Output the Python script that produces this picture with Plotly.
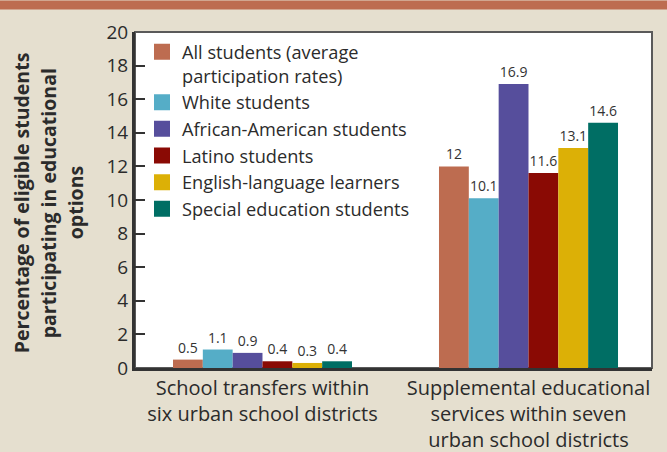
import plotly.graph_objects as go

categories = ["School transfers within<br>six urban school districts",
              "Supplemental educational<br>services within seven<br>urban school districts"]
series_names = ["All students (average<br>participation rates)", "White students",
                "African-American students", "Latino students",
                "English-language learners", "Special education students"]
series_values = [
    [0.5, 12],
    [1.1, 10.1],
    [0.9, 16.9],
    [0.4, 11.6],
    [0.3, 13.1],
    [0.4, 14.6],
]
colors = ["#bd6c50", "#55adc7", "#564e9c", "#8a0a04", "#dcb006", "#006e64"]
y_ticks = [0, 2, 4, 6, 8, 10, 12, 14, 16, 18, 20]
y_title_lines = ["Percentage of eligible students", "participating in educational", "options"]

FONT = "Open Sans"
TXT = "#2b2b2b"
W, H = 667, 452
L, R, T, B = 135, 15, 31.5, 84
pw, ph = W - L - R, H - T - B

def px_x(p):
    return (p - L) / pw

def px_y(p):
    return (H - B - p) / ph

fig = go.Figure()
xpos = list(range(len(categories)))
for i, (name, vals, c) in enumerate(zip(series_names, series_values, colors)):
    fig.add_trace(go.Bar(
        x=xpos, y=vals, name=name, marker=dict(color=c, line=dict(width=0)),
        text=[f"{v:g}" for v in vals], textposition="outside",
        textfont=dict(family=FONT, size=14, color="#333333"),
        cliponaxis=False, showlegend=False, legendgroup=f"g{i}",
    ))
# legend proxies with larger swatches
for i, (name, c) in enumerate(zip(series_names, colors)):
    fig.add_trace(go.Scatter(
        x=[None], y=[None], mode="markers", name=name, legendgroup=f"g{i}",
        marker=dict(symbol="square", size=16, color=c, line=dict(width=0)),
        showlegend=True,
    ))

fig.update_layout(
    width=W, height=H,
    margin=dict(l=L, r=R, t=T, b=B, pad=0, autoexpand=False),
    paper_bgcolor="#e5dfcf", plot_bgcolor="white",
    barmode="group", bargap=0.327, bargroupgap=0,
    font=dict(family=FONT, color=TXT),
    showlegend=True,
    legend=dict(x=px_x(142), y=px_y(33), xanchor="left", yanchor="top",
                bgcolor="rgba(0,0,0,0)", font=dict(family=FONT, size=18.2, color=TXT),
                tracegroupgap=0, valign="top", itemsizing="trace"),
    xaxis=dict(range=[-0.4793, 1.4643], tickvals=xpos, ticktext=categories,
               showgrid=False, zeroline=False, ticks="", automargin=False,
               showline=True, linewidth=3, linecolor="#333333",
               tickfont=dict(family=FONT, size=20, color=TXT)),
    yaxis=dict(range=[0, 20], tickvals=y_ticks, showgrid=False, zeroline=False,
               ticks="inside", ticklen=10, tickwidth=2, tickcolor="#333333",
               showline=True, linewidth=3, linecolor="#333333", automargin=False,
               tickfont=dict(family=FONT, size=19, color=TXT)),
    shapes=[
        dict(type="rect", xref="paper", yref="paper", x0=0, x1=1, y0=0, y1=1,
             line=dict(color="#5a5a5a", width=2), fillcolor="rgba(0,0,0,0)", layer="below"),
        dict(type="rect", xref="paper", yref="paper", x0=px_x(0), x1=px_x(W),
             y0=px_y(9), y1=px_y(0), line=dict(width=0), fillcolor="#bd6c50", layer="above"),
    ],
)

for k, (line, xp) in enumerate(zip(y_title_lines, [21, 48, 75])):
    fig.add_annotation(text=f"<b>{line}</b>", xref="paper", yref="paper",
                       x=px_x(xp), y=px_y(203), xanchor="center", yanchor="middle",
                       textangle=-90, showarrow=False,
                       font=dict(family=FONT, size=19.5, color=TXT))

fig.write_html("out.html")
